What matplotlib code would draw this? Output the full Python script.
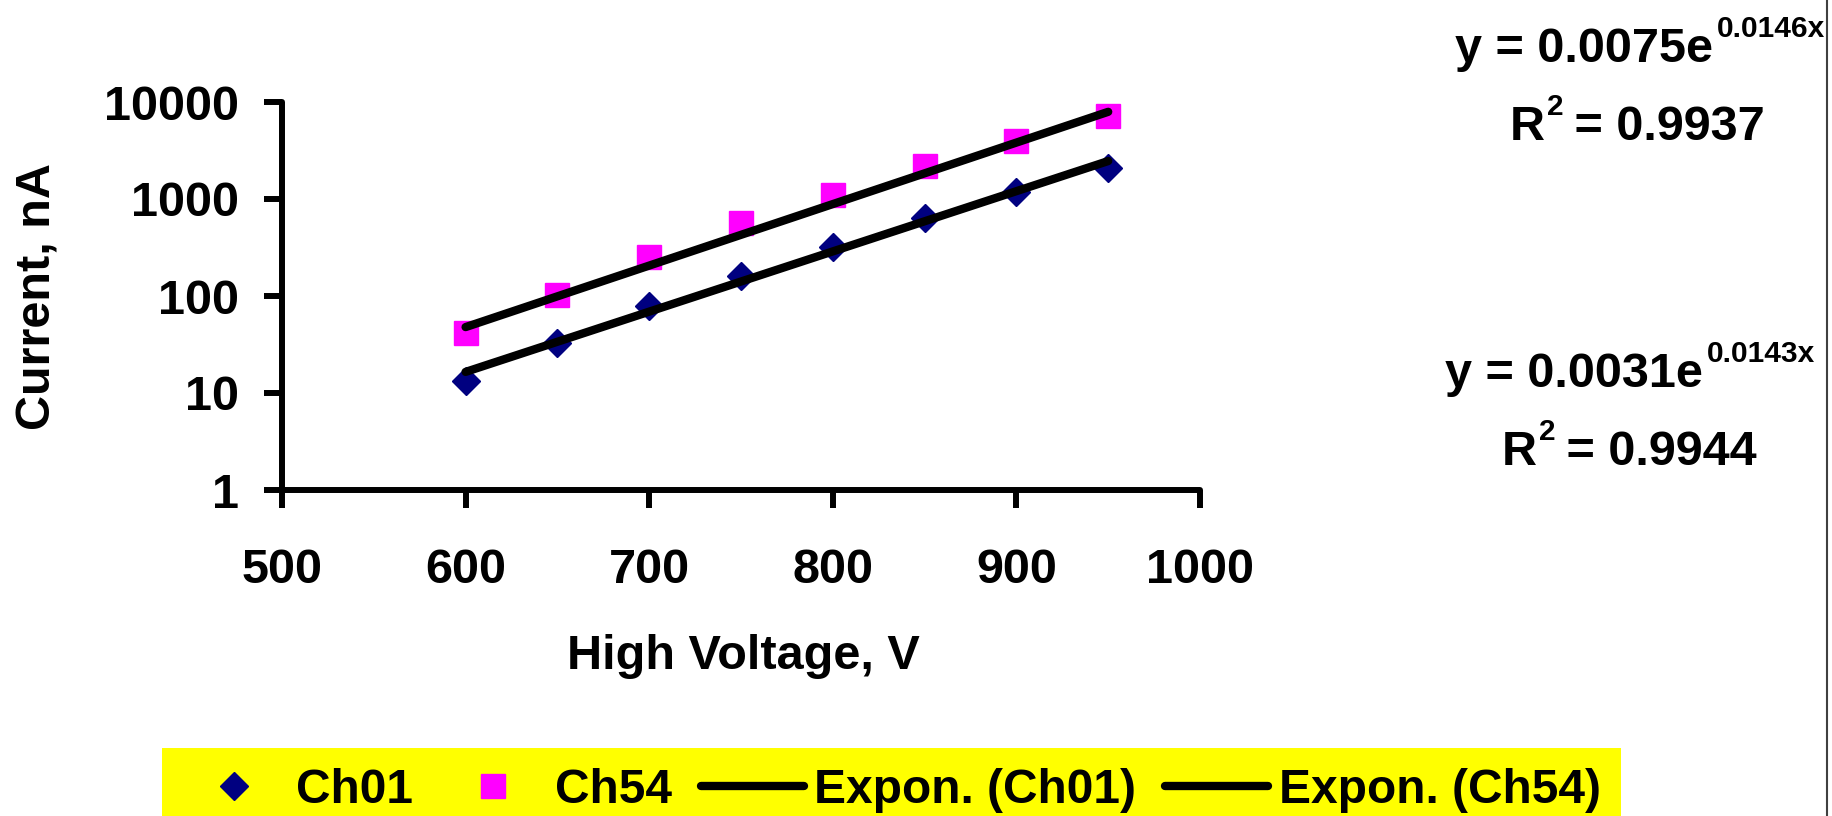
import numpy as np
import matplotlib
matplotlib.use("Agg")
import matplotlib.pyplot as plt
from matplotlib.lines import Line2D
from matplotlib.ticker import FixedLocator, NullLocator, FuncFormatter

# ── data ────────────────────────────────────────────────────────
voltage = [600, 650, 700, 750, 800, 850, 900, 950]
ch01 = [13.4, 32.7, 79.5, 161, 320, 630, 1170, 2070]
ch54 = [42, 102, 255, 560, 1100, 2200, 3940, 7230]

# exponential trendline coefficients shown on the chart: y = a * exp(b * x)
ch01_fit = (0.0031, 0.0143, 0.9944)
ch54_fit = (0.0075, 0.0146, 0.9937)

x_ticks = [500, 600, 700, 800, 900, 1000]
y_ticks = [1, 10, 100, 1000, 10000]

plt.rcParams["font.family"] = ["Liberation Sans", "DejaVu Sans"]
plt.rcParams["font.weight"] = "bold"

W, H = 1832, 816
fig = plt.figure(figsize=(W / 100, H / 100), dpi=100)


def px(x, y):
    # pixel position (from top-left) -> figure fraction
    return x / W, 1 - y / H


ax = fig.add_axes([282 / W, 1 - 490 / H, 918 / W, 388 / H])
ax.set_yscale("log")
ax.set_xlim(500, 1000)
ax.set_ylim(1, 10000)

ax.plot(voltage, ch01, linestyle="none", marker="D", ms=14.5,
        color="#000080", mec="#000080", label="Ch01", zorder=3)
ax.plot(voltage, ch54, linestyle="none", marker="s", ms=17.5,
        color="#FF00FF", mec="#FF00FF", label="Ch54", zorder=3)

xfit = np.linspace(voltage[0], voltage[-1], 200)
ax.plot(xfit, ch01_fit[0] * np.exp(ch01_fit[1] * xfit), color="black",
        lw=6, solid_capstyle="round", label="Expon. (Ch01)", zorder=4)
ax.plot(xfit, ch54_fit[0] * np.exp(ch54_fit[1] * xfit), color="black",
        lw=6, solid_capstyle="round", label="Expon. (Ch54)", zorder=4)

for side in ("top", "right"):
    ax.spines[side].set_visible(False)
for side in ("left", "bottom"):
    ax.spines[side].set_linewidth(4.3)
    ax.spines[side].set_capstyle("round")

ax.xaxis.set_major_locator(FixedLocator(x_ticks))
ax.yaxis.set_major_locator(FixedLocator(y_ticks))
ax.yaxis.set_minor_locator(NullLocator())
ax.yaxis.set_major_formatter(FuncFormatter(lambda v, _: f"{v:g}"))
ax.tick_params(axis="both", direction="out", length=13, width=4.3,
               labelsize=35)
ax.tick_params(axis="x", pad=29)
ax.tick_params(axis="y", pad=18)
for t in ax.get_xticklabels() + ax.get_yticklabels():
    t.set_fontweight("bold")

ax.set_xlabel("High Voltage, V", fontsize=35, fontweight="bold")
ax.xaxis.set_label_coords(0.503, -0.372)
ax.set_ylabel("Current, nA", fontsize=35, fontweight="bold")
ax.yaxis.set_label_coords(-0.241, 0.5)

# ── trendline equations ─────────────────────────────────────────
def equation(fit, x_e, y_base, x_r, y_r2):
    a, b, r2 = fit
    fig.text(*px(x_e, y_base), f"y = {a:.4f}e", ha="right", va="baseline",
             fontsize=35, fontweight="bold")
    fig.text(*px(x_e + 4, y_base - 25), f"{b:.4f}x", ha="left",
             va="baseline", fontsize=21.5, fontweight="bold")
    fig.text(*px(x_r, y_r2), "R", ha="left", va="baseline",
             fontsize=35, fontweight="bold")
    fig.text(*px(x_r + 37, y_r2 - 25), "2", ha="left", va="baseline",
             fontsize=21.5, fontweight="bold")
    fig.text(*px(x_r + 51, y_r2), f" = {r2:.4f}", ha="left",
             va="baseline", fontsize=35, fontweight="bold")


equation(ch54_fit, 1713, 62, 1510, 140)
equation(ch01_fit, 1703, 387, 1502, 465)

# ── legend ──────────────────────────────────────────────────────
fig.legend(*ax.get_legend_handles_labels(), ncol=4, loc="upper left",
           bbox_to_anchor=px(162, 748), borderaxespad=0, frameon=True,
           fancybox=False, facecolor="#FFFF00", edgecolor="none",
           framealpha=1, prop={"size": 34.5, "weight": "bold"},
           handlelength=2.15, handletextpad=0.22, columnspacing=0.6,
           borderpad=0.42, numpoints=1)

# thin border on the right edge
fig.add_artist(Line2D([1827 / W] * 2, [0, 1], transform=fig.transFigure,
                      color="#404040", lw=1.5))

fig.savefig("out.png", dpi=100)
